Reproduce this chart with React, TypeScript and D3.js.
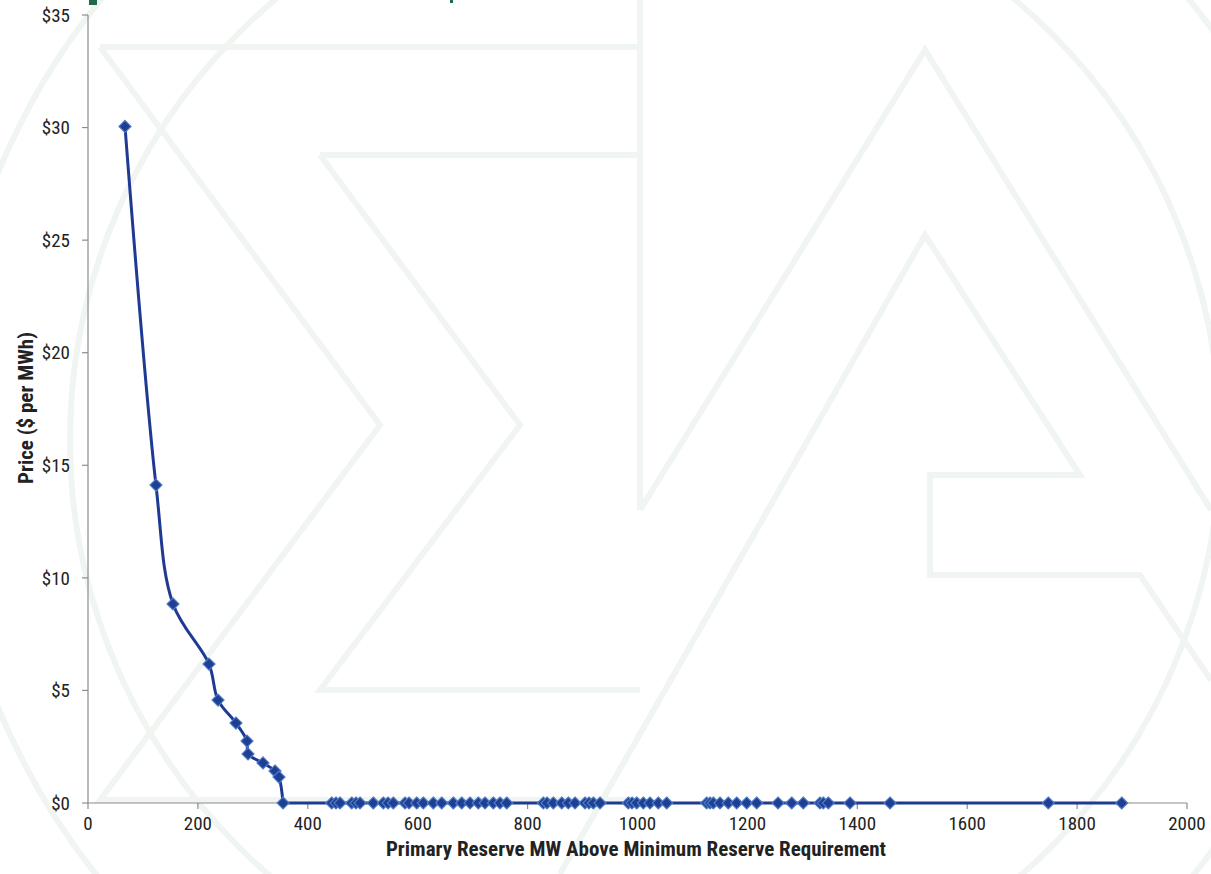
import React from "react";
import * as d3 from "d3";

// Primary reserve MW above minimum requirement
const mwSteep = [67.3, 123.7, 154.7, 220.2, 236.6, 269.3, 289.4, 291.2, 318.5, 340.3, 347.6, 355.0];
const priceSteep = [30.05, 14.12, 8.84, 6.17, 4.57, 3.55, 2.75, 2.18, 1.78, 1.42, 1.15, 0.0];

const mwZero = [
  443.5, 451.3, 458.6, 479.9, 487.7, 495.0, 519.2, 537.4, 546.0, 555.6, 576.9, 584.2,
  598.2, 610.2, 628.4, 643.7, 664.8, 680.1, 695.2, 710.3, 722.5, 737.6, 749.8, 762.0,
  828.6, 835.3, 846.8, 862.1, 874.1, 886.3, 904.5, 911.7, 919.6, 931.8,
  983.3, 990.0, 998.5, 1010.6, 1022.7, 1037.9, 1053.1,
  1125.9, 1132.0, 1138.0, 1150.1, 1165.2, 1180.5, 1198.7, 1216.9,
  1255.7, 1280.6, 1301.7, 1332.1, 1338.1, 1347.2, 1386.7, 1459.5, 1747.6, 1881.2,
];

const xTicks = [0, 200, 400, 600, 800, 1000, 1200, 1400, 1600, 1800, 2000];
const yTicks = [0, 5, 10, 15, 20, 25, 30, 35];

const xTitle = "Primary Reserve MW Above Minimum Reserve Requirement";
const yTitle = "Price ($ per MWh)";

const NARROW = "'Roboto Condensed', 'Liberation Sans Narrow', 'Arial Narrow', Roboto, sans-serif";

export default function App() {
  const width = 1211;
  const height = 874;
  const x = d3.scaleLinear().domain([0, 2000]).range([88, 1187]);
  const y = d3.scaleLinear().domain([0, 35]).range([803, 15]);

  const steep: [number, number][] = mwSteep.map((m, i) => [m, priceSteep[i]] as [number, number]);
  const flat: [number, number][] = [
    [mwSteep[mwSteep.length - 1], priceSteep[priceSteep.length - 1]],
    ...mwZero.map((m) => [m, 0] as [number, number]),
  ];
  const points: [number, number][] = [...steep, ...flat.slice(1)];

  const smooth = d3
    .line<[number, number]>()
    .x((d) => x(d[0]))
    .y((d) => y(d[1]))
    .curve(d3.curveCatmullRom.alpha(0.5));
  const straight = d3
    .line<[number, number]>()
    .x((d) => x(d[0]))
    .y((d) => y(d[1]));

  const wm = "#f0f5f2";
  const wmW = 6;

  const diamond = (cx: number, cy: number, r: number) =>
    `M${cx},${cy - r}L${cx + r},${cy}L${cx},${cy + r}L${cx - r},${cy}Z`;

  return (
    <svg
      width={width}
      height={height}
      style={{ position: "absolute", left: 0, top: 0, background: "#fff" }}
    >
      {/* watermark */}
      <g fill="none" stroke={wm} strokeWidth={wmW}>
        <circle cx={645} cy={440} r={575} />
        <circle cx={645} cy={440} r={700} />
        <polyline points="100,47 640,47" />
        <polyline points="100,47 380,425 100,800 640,800" />
        <polyline points="640,0 640,510" />
        <polyline points="320,155 640,155" />
        <polyline points="320,155 520,425 320,690 640,690" />
        <polyline points="640,510 925,50 1211,510" />
        <polyline points="560,874 925,235 1080,475 930,475 930,575 1140,575 1211,680" />
      </g>

      {/* cut-off title remnants */}
      <rect x={89} y={0} width={8} height={5} fill="#1e6b4a" />
      <rect x={450} y={0} width={3} height={3} fill="#1e6b4a" />

      {/* axes */}
      <g stroke="#8c8c8c" strokeWidth={1.2} fill="none">
        <line x1={x(0)} x2={x(0)} y1={y(35)} y2={y(0)} />
        <line x1={x(0)} x2={x(2000)} y1={y(0)} y2={y(0)} />
        {yTicks.map((t) => (
          <line key={"yt" + t} x1={x(0) - 6} x2={x(0)} y1={y(t)} y2={y(t)} />
        ))}
        {xTicks.map((t) => (
          <line key={"xt" + t} x1={x(t)} x2={x(t)} y1={y(0)} y2={y(0) + 6} />
        ))}
      </g>

      <g fontFamily={NARROW} fontSize={19} fill="#222">
        {yTicks.map((t) => (
          <text key={"yl" + t} x={70} y={y(t)} dy="0.35em" textAnchor="end">
            {"$" + t}
          </text>
        ))}
        {xTicks.map((t) => (
          <text key={"xl" + t} x={x(t)} y={830} textAnchor="middle">
            {t}
          </text>
        ))}
      </g>
      <g fontFamily={NARROW} fill="#222" fontWeight="bold" fontSize={21}>
        <text x={636} y={856} textAnchor="middle">
          {xTitle}
        </text>
        <text transform={`translate(33,${408}) rotate(-90)`} textAnchor="middle">
          {yTitle}
        </text>
      </g>

      {/* series */}
      <g fill="none" stroke="#1f3a93" strokeWidth={3}>
        <path d={smooth(steep) || ""} />
        <path d={straight(flat) || ""} />
      </g>
      <g fill="#1f3f94" stroke="#4f7cc4" strokeWidth={1.2}>
        {points.map((d, i) => (
          <path key={i} d={diamond(x(d[0]), y(d[1]), 6)} />
        ))}
      </g>
    </svg>
  );
}
